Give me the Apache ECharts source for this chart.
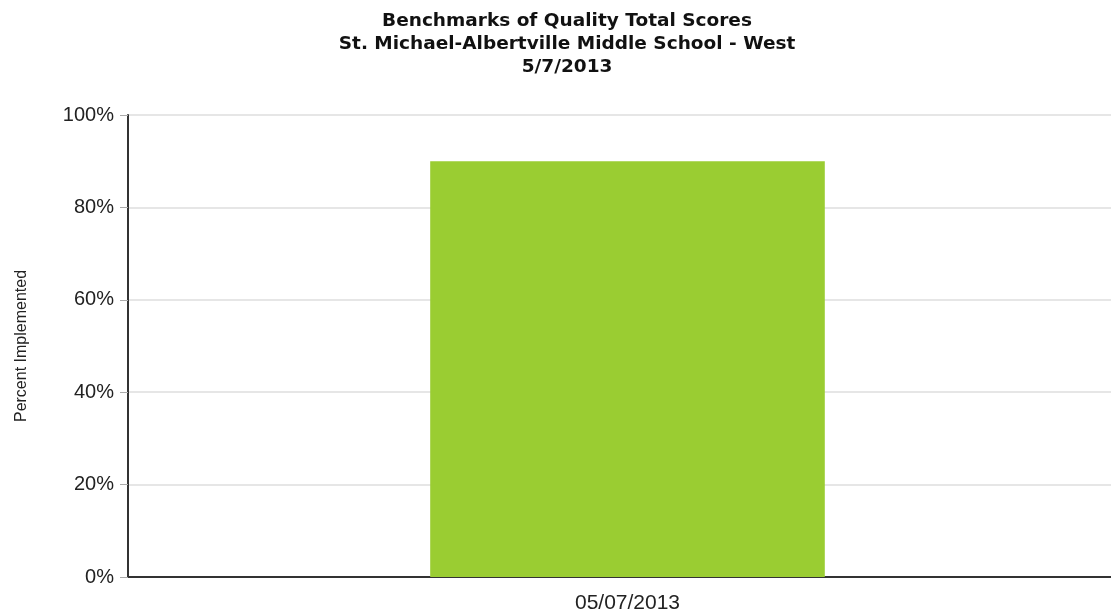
<!DOCTYPE html>
<html>
<head>
<meta charset="utf-8">
<script src="https://cdn.jsdelivr.net/npm/echarts@6/dist/echarts.min.js"></script>
<style>
  html, body { margin: 0; padding: 0; background: #fff; }
  #chart { width: 1111px; height: 614px; }
</style>
</head>
<body>
<div id="chart"></div>
<script>
var categories = ['05/07/2013'];
var scores = [90];
var titleLines = [
	'Benchmarks of Quality Total Scores',
	'St. Michael-Albertville Middle School - West',
	'5/7/2013'
];

var myChart = echarts.init(document.getElementById('chart'));
var option = {
	animation: false,
	title: {
		text: titleLines.join('\n'),
		left: 562,
		top: 5,
		textAlign: 'center',
		textStyle: {
			fontFamily: 'DejaVu Sans',
			fontWeight: 'bold',
			fontSize: 18.5,
			lineHeight: 23,
			color: '#111'
		}
	},
	grid: {
		left: 128,
		width: 999,
		top: 115,
		bottom: 37,
		containLabel: false,
		outerBoundsMode: 'none'
	},
	xAxis: {
		type: 'category',
		data: categories,
		axisLine: { lineStyle: { color: '#333', width: 2 } },
		axisTick: { show: false },
		axisLabel: {
			color: '#222',
			fontFamily: 'Liberation Sans',
			fontSize: 21,
			margin: 16
		}
	},
	yAxis: {
		type: 'value',
		min: 0,
		max: 100,
		interval: 20,
		name: 'Percent Implemented',
		nameLocation: 'middle',
		nameGap: 98,
		nameTextStyle: {
			color: '#222',
			fontFamily: 'Liberation Sans',
			fontSize: 16
		},
		axisLine: { show: true, lineStyle: { color: '#333', width: 2 } },
		axisTick: { show: true, length: 8, lineStyle: { color: '#aaa' } },
		axisLabel: {
			formatter: '{value}%',
			color: '#222',
			fontFamily: 'Liberation Sans',
			fontSize: 20,
			margin: 14
		},
		splitLine: { lineStyle: { color: '#e6e6e6', width: 2 } }
	},
	series: [{
		type: 'bar',
		data: scores,
		barWidth: '39.5%',
		itemStyle: { color: '#9acd32' }
	}]
};
myChart.setOption(option);
</script>
</body>
</html>
